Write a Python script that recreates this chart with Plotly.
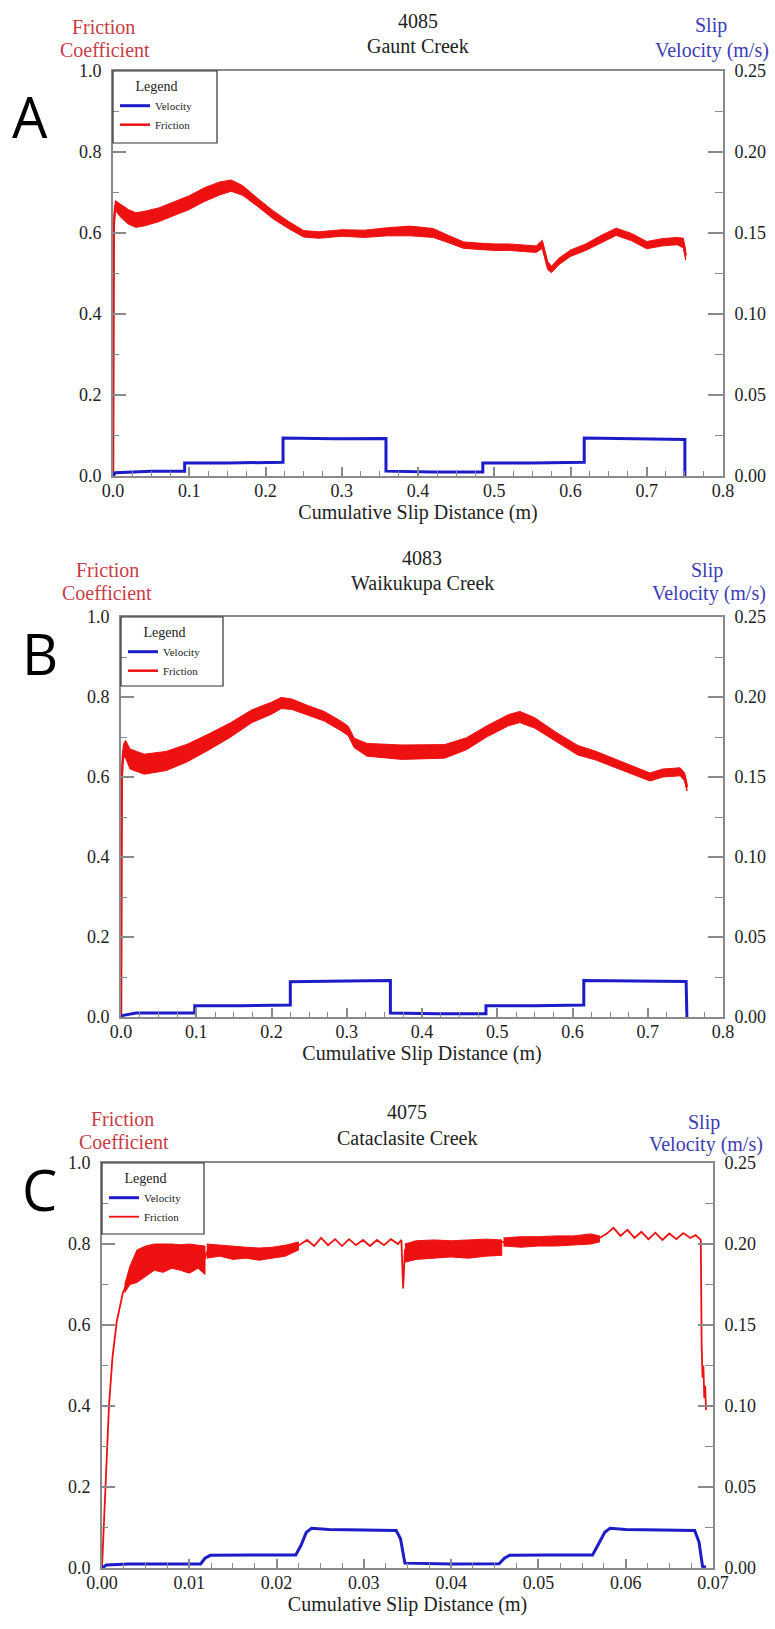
import plotly.graph_objects as go

# ---------------- data ----------------
# Panel A : 4085 Gaunt Creek
A_dist = [0, 0.001, 0.003, 0.01, 0.02, 0.03, 0.04, 0.06, 0.08, 0.1, 0.12, 0.14, 0.155, 0.17, 0.19,
          0.21, 0.23, 0.25, 0.27, 0.3, 0.33, 0.36, 0.39, 0.42, 0.44, 0.46, 0.48, 0.5, 0.52, 0.54,
          0.555, 0.563, 0.57, 0.575, 0.585, 0.6, 0.62, 0.64, 0.66, 0.68, 0.7, 0.72, 0.74, 0.748, 0.751]
A_friction = [0, 0.62, 0.668, 0.655, 0.64, 0.632, 0.635, 0.645, 0.66, 0.675, 0.695, 0.71, 0.717, 0.705, 0.675,
              0.645, 0.62, 0.598, 0.595, 0.6, 0.598, 0.603, 0.605, 0.6, 0.585, 0.57, 0.567, 0.565, 0.565, 0.562,
              0.56, 0.572, 0.52, 0.51, 0.53, 0.55, 0.565, 0.585, 0.603, 0.59, 0.57, 0.577, 0.58, 0.575, 0.545]
A_noise = [0, 0, 0.012, 0.016, 0.018, 0.018, 0.018, 0.017, 0.017, 0.017, 0.017, 0.016, 0.014, 0.012, 0.01,
           0.01, 0.009, 0.008, 0.008, 0.008, 0.009, 0.01, 0.012, 0.011, 0.009, 0.008, 0.008, 0.008, 0.008, 0.008,
           0.008, 0.01, 0.01, 0.008, 0.008, 0.008, 0.008, 0.009, 0.009, 0.009, 0.009, 0.009, 0.009, 0.012, 0.012]
A_vel_dist = [0, 0.003, 0.05, 0.094, 0.094, 0.15, 0.223, 0.223, 0.29, 0.358, 0.358, 0.42, 0.485, 0.485,
              0.55, 0.618, 0.618, 0.69, 0.75, 0.75]
A_velocity = [0.0, 0.002, 0.003, 0.003, 0.008, 0.008, 0.0085, 0.0235, 0.023, 0.0232, 0.003, 0.0025, 0.0025, 0.008,
              0.008, 0.0085, 0.0235, 0.0228, 0.0225, 0.0]

# Panel B : 4083 Waikukupa Creek
B_dist = [0, 0.001, 0.003, 0.006, 0.012, 0.031, 0.06, 0.088, 0.117, 0.145, 0.174, 0.2, 0.213, 0.227, 0.248,
          0.27, 0.293, 0.302, 0.31, 0.327, 0.373, 0.43, 0.459, 0.487, 0.515, 0.53, 0.55, 0.578, 0.607, 0.63,
          0.658, 0.686, 0.703, 0.72, 0.743, 0.749, 0.752]
B_friction = [0, 0.6, 0.665, 0.67, 0.645, 0.632, 0.64, 0.66, 0.688, 0.717, 0.752, 0.772, 0.785, 0.782, 0.767,
              0.752, 0.727, 0.715, 0.685, 0.668, 0.662, 0.664, 0.683, 0.715, 0.742, 0.75, 0.735, 0.7, 0.667, 0.654,
              0.633, 0.613, 0.6, 0.61, 0.613, 0.6, 0.575]
B_noise = [0, 0, 0.015, 0.022, 0.025, 0.025, 0.024, 0.022, 0.02, 0.018, 0.016, 0.015, 0.014, 0.013, 0.012,
           0.012, 0.012, 0.012, 0.012, 0.016, 0.018, 0.017, 0.015, 0.014, 0.014, 0.014, 0.013, 0.012, 0.012, 0.011,
           0.011, 0.011, 0.01, 0.01, 0.01, 0.01, 0.01]
B_vel_dist = [0, 0.003, 0.02, 0.098, 0.098, 0.16, 0.225, 0.225, 0.3, 0.358, 0.358, 0.42, 0.485, 0.485,
              0.55, 0.615, 0.615, 0.69, 0.751, 0.752]
B_velocity = [0, 0.001, 0.0025, 0.0025, 0.007, 0.007, 0.0075, 0.022, 0.0225, 0.0228, 0.0025, 0.002, 0.002, 0.007,
              0.007, 0.0075, 0.0228, 0.0225, 0.0222, 0]

# Panel C : 4075 Cataclasite Creek
C_dist = [0, 0.0002, 0.0005, 0.0008, 0.0012, 0.0017, 0.0024, 0.0032, 0.004, 0.006,
          0.008, 0.010, 0.0118, 0.012, 0.014, 0.016, 0.018, 0.020, 0.0215, 0.0228,
          0.0235, 0.0243, 0.0251, 0.0259, 0.0267, 0.0275, 0.0283, 0.0291, 0.0299, 0.0307,
          0.0315, 0.0323, 0.0331, 0.0339, 0.0343, 0.0345, 0.0347, 0.036, 0.038, 0.040,
          0.042, 0.044, 0.046, 0.048, 0.050, 0.052, 0.054, 0.056, 0.057, 0.0578,
          0.0586, 0.0594, 0.0602, 0.061, 0.0618, 0.0626, 0.0634, 0.0642, 0.065, 0.0658,
          0.0666, 0.0674, 0.068, 0.0684, 0.0686, 0.0687, 0.0688, 0.0689, 0.069, 0.0691, 0.0692]
C_friction = [0, 0.1, 0.25, 0.4, 0.52, 0.61, 0.68, 0.72, 0.75, 0.77,
              0.775, 0.772, 0.765, 0.78, 0.782, 0.778, 0.775, 0.778, 0.785, 0.8,
              0.81, 0.795, 0.815, 0.797, 0.812, 0.795, 0.812, 0.797, 0.81, 0.795,
              0.81, 0.797, 0.812, 0.8, 0.81, 0.69, 0.785, 0.79, 0.79, 0.788,
              0.79, 0.792, 0.805, 0.805, 0.806, 0.807, 0.808, 0.81, 0.815, 0.825,
              0.84, 0.82, 0.835, 0.815, 0.83, 0.812, 0.828, 0.81, 0.826, 0.812,
              0.827, 0.815, 0.822, 0.815, 0.81, 0.55, 0.47, 0.5, 0.42, 0.45, 0.39]
# dense stick-slip bands in panel C (upper / lower envelope)
C_band1_dist = [0.0026, 0.0032, 0.004, 0.005, 0.006, 0.007, 0.008, 0.009, 0.010, 0.011, 0.0118]
C_band1_hi = [0.70, 0.745, 0.785, 0.795, 0.80, 0.80, 0.80, 0.798, 0.80, 0.797, 0.795]
C_band1_lo = [0.68, 0.70, 0.705, 0.72, 0.735, 0.73, 0.74, 0.735, 0.728, 0.74, 0.725]
C_band2_dist = [0.012, 0.0135, 0.015, 0.0165, 0.018, 0.0195, 0.021, 0.0225]
C_band2_hi = [0.80, 0.797, 0.795, 0.792, 0.79, 0.792, 0.797, 0.805]
C_band2_lo = [0.765, 0.77, 0.762, 0.765, 0.76, 0.765, 0.77, 0.785]
C_band3_dist = [0.0347, 0.036, 0.038, 0.040, 0.042, 0.044, 0.0458]
C_band3_hi = [0.80, 0.808, 0.81, 0.808, 0.81, 0.812, 0.81]
C_band3_lo = [0.755, 0.762, 0.765, 0.768, 0.765, 0.77, 0.772]
C_band4_dist = [0.046, 0.048, 0.050, 0.052, 0.054, 0.056, 0.057]
C_band4_hi = [0.815, 0.818, 0.818, 0.82, 0.82, 0.825, 0.82]
C_band4_lo = [0.795, 0.792, 0.795, 0.795, 0.797, 0.8, 0.805]
C_vel_dist = [0, 0.0005, 0.003, 0.0113, 0.0118, 0.0124, 0.017, 0.0222, 0.0228, 0.0234,
              0.024, 0.026, 0.028, 0.030, 0.032, 0.0337, 0.0342, 0.0347, 0.040, 0.0455,
              0.0461, 0.0467, 0.051, 0.0562, 0.0569, 0.0576, 0.0582, 0.060, 0.062, 0.064,
              0.066, 0.0679, 0.0684, 0.0688, 0.0692]
C_velocity = [0, 0.0018, 0.0025, 0.0025, 0.006, 0.0078, 0.008, 0.008, 0.014, 0.022,
              0.0245, 0.0238, 0.0236, 0.0234, 0.0234, 0.0232, 0.018, 0.003, 0.0025, 0.0026,
              0.006, 0.0078, 0.008, 0.008, 0.015, 0.022, 0.0245, 0.0238, 0.0236, 0.0235,
              0.0233, 0.0232, 0.016, 0.001, 0.0005]

sample_ids = ["4085", "4083", "4075"]
site_names = ["Gaunt Creek", "Waikukupa Creek", "Cataclasite Creek"]
panel_letters = ["A", "B", "C"]

# ---------------- styling / layout ----------------
W, H = 775, 1629
def fx(p): return p / W
def fy(p): return 1 - p / H

SERIF = "Liberation Serif"
RED = "#ee1111"
BLUE = "#1c1cc8"
LBL_RED = "#c83c46"
LBL_BLUE = "#3c3cb4"
AXC = "#8a8a8a"
TXT = "#222222"

# pixel geometry of each panel
P = [
    dict(l=113, r=723, t=71, b=476, xr=[0, 0.8], xd=0.1, xm=0.025, xf=".1f",
         tid=21, tname=46, fr=(103, 27, 105, 50), sv=(711, 26, 712, 50), let=(30, 116),
         leg=(113, 217, 71, 143)),
    dict(l=121, r=723, t=617, b=1017, xr=[0, 0.8], xd=0.1, xm=0.025, xf=".1f",
         tid=558, tname=583, fr=(108, 570, 107, 593), sv=(707, 570, 709, 593), let=(40, 653),
         leg=(121, 223, 617, 686)),
    dict(l=102, r=713, t=1163, b=1568, xr=[0, 0.07], xd=0.01, xm=0.0025, xf=".2f",
         tid=1112, tname=1138, fr=(122, 1119, 124, 1142), sv=(704, 1122, 706, 1144), let=(39, 1189),
         leg=(102, 204, 1163, 1234)),
]

fig = go.Figure()

def band(x, lo, hi, xa, ya):
    return go.Scatter(x=list(x) + list(x)[::-1], y=list(hi) + list(lo)[::-1], xaxis=xa, yaxis=ya,
                      mode="lines", fill="toself", fillcolor=RED, line=dict(color=RED, width=1),
                      showlegend=False, hoverinfo="skip")

data = [
    (A_dist, A_friction, A_noise, A_vel_dist, A_velocity),
    (B_dist, B_friction, B_noise, B_vel_dist, B_velocity),
    (C_dist, C_friction, None, C_vel_dist, C_velocity),
]

for i, (fd, ff, fn, vd, vv) in enumerate(data):
    xa = "x" if i == 0 else f"x{i+1}"
    ya = "y" if i == 0 else f"y{i+1}"
    ya2 = f"y{i+4}"
    leg = "legend" if i == 0 else f"legend{i+1}"
    fig.add_trace(go.Scatter(x=vd, y=vv, xaxis=xa, yaxis=ya2, mode="lines", name="Velocity",
                             line=dict(color=BLUE, width=3), legend=leg))
    if fn is not None:
        hi = [f + n for f, n in zip(ff, fn)]
        lo = [f - n for f, n in zip(ff, fn)]
        fig.add_trace(band(fd, lo, hi, xa, ya))
        fig.add_trace(go.Scatter(x=fd, y=ff, xaxis=xa, yaxis=ya, mode="lines", name="Friction",
                                 line=dict(color=RED, width=2.5), legend=leg))
    else:
        for bx, blo, bhi in [(C_band1_dist, C_band1_lo, C_band1_hi), (C_band2_dist, C_band2_lo, C_band2_hi),
                             (C_band3_dist, C_band3_lo, C_band3_hi), (C_band4_dist, C_band4_lo, C_band4_hi)]:
            fig.add_trace(band(bx, blo, bhi, xa, ya))
        fig.add_trace(go.Scatter(x=fd, y=ff, xaxis=xa, yaxis=ya, mode="lines", name="Friction",
                                 line=dict(color=RED, width=1.8), legend=leg))

layout = dict(template="none", width=W, height=H, margin=dict(l=0, r=0, t=0, b=0, pad=0),
              paper_bgcolor="white", plot_bgcolor="white", showlegend=True,
              font=dict(family=SERIF, color=TXT))
tickfont = dict(family=SERIF, size=18, color=TXT)
annotations = []
shapes = []

for i, p in enumerate(P):
    sx = "" if i == 0 else str(i + 1)
    xk, yk, y2k = f"xaxis{sx}", f"yaxis{sx}", f"yaxis{i+4}"
    xa = "x" + sx
    ya = "y" + sx
    layout[xk] = dict(domain=[fx(p["l"]), fx(p["r"])], anchor=ya, range=p["xr"], dtick=p["xd"], tick0=0,
                      automargin=False, ticklabelstandoff=-3,
                      tickformat=p["xf"], ticks="inside", ticklen=9, tickwidth=1.5, tickcolor=AXC,
                      showline=True, linecolor=AXC, linewidth=2, mirror=True, showgrid=False, zeroline=False,
                      tickfont=tickfont,
                      minor=dict(dtick=p["xm"], tick0=0, ticks="inside", ticklen=5, tickwidth=1.2, tickcolor=AXC),
                      title=dict(text="Cumulative Slip Distance (m)", font=dict(family=SERIF, size=20, color=TXT),
                                 standoff=2))
    layout[yk] = dict(domain=[fy(p["b"]), fy(p["t"])], anchor=xa, range=[0, 1], dtick=0.2, tick0=0,
                      automargin=False,
                      tickformat=".1f", ticks="inside", ticklen=13, tickwidth=1.5, tickcolor=AXC,
                      showline=True, linecolor=AXC, linewidth=2, showgrid=False, zeroline=False,
                      tickfont=tickfont, ticklabelstandoff=6,
                      minor=dict(dtick=0.1, tick0=0, ticks="inside", ticklen=6, tickwidth=1.2, tickcolor=AXC))
    layout[y2k] = dict(overlaying=ya, anchor=xa, side="right", range=[0, 0.25], dtick=0.05, tick0=0,
                       automargin=False,
                       tickformat=".2f", ticks="inside", ticklen=15, tickwidth=1.5, tickcolor=AXC,
                       showline=True, linecolor=AXC, linewidth=2, showgrid=False, zeroline=False,
                       tickfont=tickfont, ticklabelstandoff=6,
                       minor=dict(dtick=0.025, tick0=0, ticks="inside", ticklen=8, tickwidth=1.2, tickcolor=AXC))
    cx = (p["l"] + p["r"]) / 2
    annotations += [
        dict(text=sample_ids[i], x=fx(cx), y=fy(p["tid"]), font=dict(family=SERIF, size=20, color=TXT)),
        dict(text=site_names[i], x=fx(cx), y=fy(p["tname"]), font=dict(family=SERIF, size=20, color=TXT)),
        dict(text="Friction", x=fx(p["fr"][0]), y=fy(p["fr"][1]), font=dict(family=SERIF, size=20, color=LBL_RED)),
        dict(text="Coefficient", x=fx(p["fr"][2]), y=fy(p["fr"][3]), font=dict(family=SERIF, size=20, color=LBL_RED)),
        dict(text="Slip", x=fx(p["sv"][0]), y=fy(p["sv"][1]), font=dict(family=SERIF, size=20, color=LBL_BLUE)),
        dict(text="Velocity (m/s)", x=fx(p["sv"][2]), y=fy(p["sv"][3]), font=dict(family=SERIF, size=20, color=LBL_BLUE)),
        dict(text=panel_letters[i], x=fx(p["let"][0]), y=fy(p["let"][1]),
             font=dict(family="Open Sans", size=56, color="black")),
    ]
    l0, l1, t0, b0 = p["leg"]
    shapes.append(dict(type="rect", xref="paper", yref="paper", x0=fx(l0), x1=fx(l1), y0=fy(b0), y1=fy(t0),
                       line=dict(color="#333333", width=1.2), fillcolor="rgba(0,0,0,0)", layer="above"))
    lk = "legend" if i == 0 else f"legend{i+1}"
    layout[lk] = dict(x=fx(l0 + 2), y=fy(t0 + 2), xanchor="left", yanchor="top", bgcolor="rgba(0,0,0,0)",
                      borderwidth=0, font=dict(family=SERIF, size=11, color=TXT),
                      title=dict(text="Legend", side="top center", font=dict(family=SERIF, size=14, color=TXT)),
                      itemwidth=30, traceorder="normal", tracegroupgap=0)

for a in annotations:
    a.update(xref="paper", yref="paper", showarrow=False, xanchor="center", yanchor="middle")

layout["annotations"] = annotations
layout["shapes"] = shapes
fig.update_layout(**layout)
fig.write_html("out.html")
